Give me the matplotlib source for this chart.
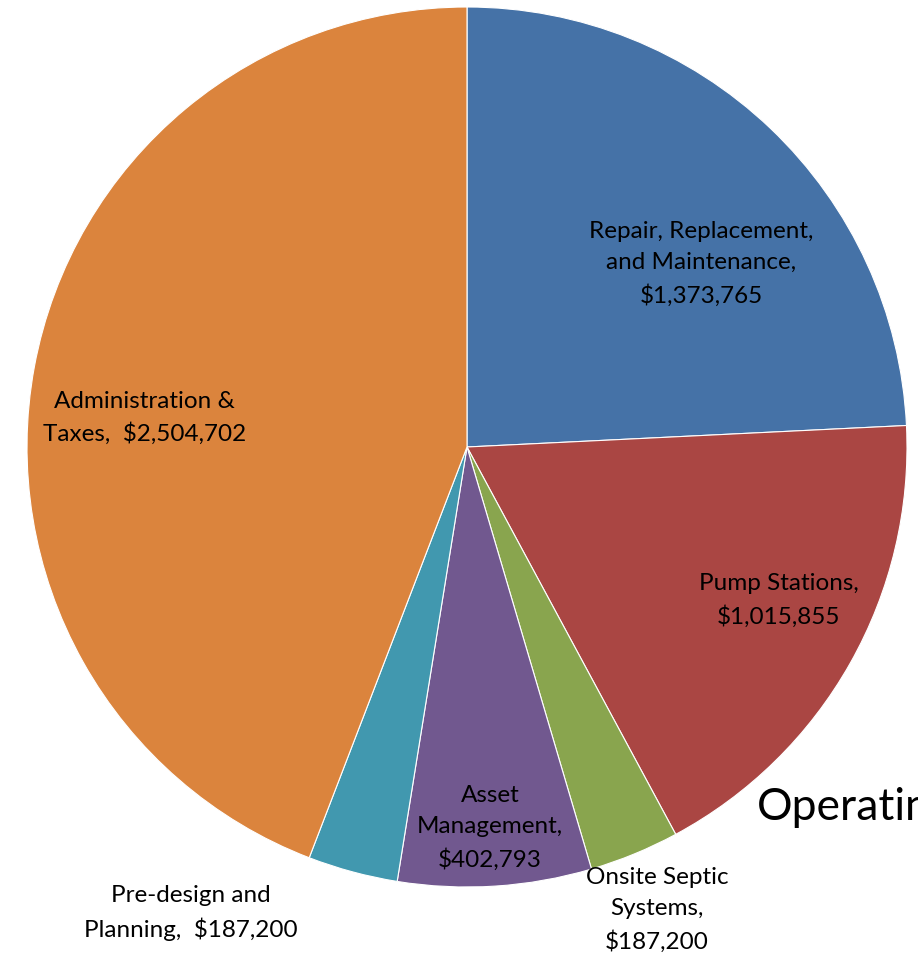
import numpy as np
import matplotlib.pyplot as plt

plt.rcParams['font.family'] = ['Lato', 'DejaVu Sans']

# operating costs by category, clockwise from 12 o'clock
categories = ['Repair, Replacement,\nand Maintenance,', 'Pump Stations,',
              'Onsite Septic\nSystems,', 'Asset\nManagement,',
              'Pre-design and\nPlanning,', 'Administration &\nTaxes,']
costs = [1373765, 1015855, 187200, 402793, 187200, 2504702]
colors = ['#4572A7', '#AA4643', '#89A54E', '#71588F', '#4198AF', '#DB843D']

# label anchor points in pie-radius units, and what joins name and value
label_xy = [(0.532, 0.416), (0.709, -0.348), (0.432, -1.052),
            (0.052, -0.866), (-0.627, -1.059), (-0.732, 0.066)]
label_sep = ['\n', '\n', '\n', '\n', '  ', '  ']

W, H = 918, 961
cx, cy, r = 467, 447, 440

fig = plt.figure(figsize=(W / 100, H / 100), dpi=100)
ax = fig.add_axes([(cx - r) / W, (H - cy - r) / H, 2 * r / W, 2 * r / H])
ax.pie(costs, colors=colors, startangle=90, counterclock=False, radius=1,
       wedgeprops=dict(edgecolor='white', linewidth=0.8))
ax.set_xlim(-1, 1)
ax.set_ylim(-1, 1)
ax.set_aspect('equal')
ax.axis('off')

for name, val, sep, (x, y) in zip(categories, costs, label_sep, label_xy):
    text = name + sep + '${:,}'.format(val)
    ax.text(x, y, text, ha='center', va='center', fontsize=17.5,
            linespacing=1.58, color='black', clip_on=False)

fig.text(757 / W, 1 - 808 / H, 'Operating', fontsize=32, ha='left',
         va='center', color='black')

fig.savefig('out.png', dpi=100)
